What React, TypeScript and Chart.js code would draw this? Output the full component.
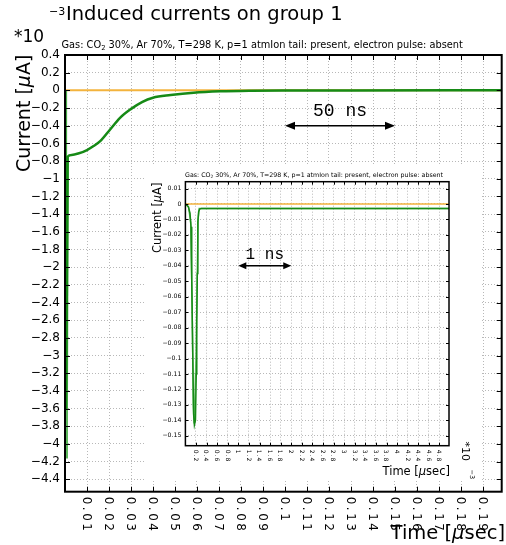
import React, { useEffect, useRef } from 'react';
import { Chart, registerables } from 'chart.js';

Chart.register(...registerables);

// ---------- Main chart data (time in µsec, current in 1e-3 µA) ----------
const mainTimeDark = [0, 0.0005, 0.0012, 0.003, 0.006, 0.01, 0.013, 0.016, 0.0206, 0.025, 0.0297, 0.035, 0.04, 0.048, 0.0585, 0.0706, 0.085, 0.1, 0.13, 0.1985];
const mainCurrentDark = [0, -3.6, -0.75, -0.73, -0.715, -0.675, -0.63, -0.575, -0.44, -0.31, -0.215, -0.132, -0.083, -0.053, -0.026, -0.011, -0.004, -0.0015, -0.0005, 0];
const mainTimeLight = [0, 0.0004, 0.0006, 0.0008, 0.0012];
const mainCurrentLight = [0, -3.5, -4.15, -3.5, -0.75];
const mainTimeZero = [0, 0.1985];
const mainCurrentZero = [0, 0];
const mainXTicks = [0.01, 0.02, 0.03, 0.04, 0.05, 0.06, 0.07, 0.08, 0.09, 0.1, 0.11, 0.12, 0.13, 0.14, 0.15, 0.16, 0.17, 0.18, 0.19];
const mainYTicks = [0.4, 0.2, 0, -0.2, -0.4, -0.6, -0.8, -1, -1.2, -1.4, -1.6, -1.8, -2, -2.2, -2.4, -2.6, -2.8, -3, -3.2, -3.4, -3.6, -3.8, -4, -4.2, -4.4];

// ---------- Inset chart data (time in 1e-3 µsec, current in µA) ----------
const insetTimeDark = [0, 0.055, 0.087, 0.106, 0.12, 0.14, 0.155, 0.17, 0.19, 0.205, 0.215, 0.225, 0.235, 0.25, 0.27, 0.3, 1, 2, 3, 4, 4.98];
const insetCurrentDark = [0, -0.0017, -0.006, -0.0147, -0.05, -0.1, -0.136, -0.143, -0.14, -0.11, -0.075, -0.045, -0.012, -0.005, -0.0033, -0.003, -0.003, -0.003, -0.003, -0.003, -0.003];
const insetTimeLight = [0, 0.06, 0.1, 0.125, 0.15, 0.165, 0.18, 0.2, 0.222, 0.24, 0.26, 4.98];
const insetCurrentLight = [0, -0.002, -0.012, -0.06, -0.13, -0.142, -0.142, -0.1, -0.05, -0.01, -0.003, -0.003];
const insetTimeZero = [0, 4.98];
const insetCurrentZero = [0, 0];
const insetXTicks = [0.2, 0.4, 0.6, 0.8, 1, 1.2, 1.4, 1.6, 1.8, 2, 2.2, 2.4, 2.6, 2.8, 3, 3.2, 3.4, 3.6, 3.8, 4, 4.2, 4.4, 4.6, 4.8];
const insetYTicks = [0.01, 0, -0.01, -0.02, -0.03, -0.04, -0.05, -0.06, -0.07, -0.08, -0.09, -0.1, -0.11, -0.12, -0.13, -0.14, -0.15];

const titleText = 'Induced currents on group 1';
const subtitleA = 'Gas: CO';
const subtitleSub = '2';
const subtitleB = ' 30%, Ar 70%, T=298 K, p=1 atmIon tail: present, electron pulse: absent';

const DARK = '#168a16';
const LIGHT = '#5cb85c';
const ORANGE = '#f3b33d';
const GRID = '#b8b8b8';
const SANS = '"DejaVu Sans"';
const MONO = '"Liberation Mono"';

function fmt(v: number): string {
  const s = String(Math.round(v * 10000) / 10000);
  return s.replace('-', '\u2212');
}

function pts(xs: number[], ys: number[]) {
  return xs.map((x, i) => ({ x, y: ys[i] }));
}

type Part = { t: string; f: string; dy?: number };
function drawParts(ctx: CanvasRenderingContext2D, parts: Part[], x: number, y: number) {
  let cx = x;
  for (const p of parts) {
    ctx.font = p.f;
    ctx.fillText(p.t, cx, y + (p.dy || 0));
    cx += ctx.measureText(p.t).width;
  }
  return cx;
}
function partsWidth(ctx: CanvasRenderingContext2D, parts: Part[]) {
  let w = 0;
  for (const p of parts) {
    ctx.font = p.f;
    w += ctx.measureText(p.t).width;
  }
  return w;
}

function dblArrow(ctx: CanvasRenderingContext2D, x1: number, x2: number, y: number, len: number, half: number, lw: number) {
  ctx.lineWidth = lw;
  ctx.beginPath();
  ctx.moveTo(x1 + len * 0.7, y);
  ctx.lineTo(x2 - len * 0.7, y);
  ctx.stroke();
  ctx.beginPath();
  ctx.moveTo(x1, y);
  ctx.lineTo(x1 + len, y - half);
  ctx.lineTo(x1 + len, y + half);
  ctx.closePath();
  ctx.fill();
  ctx.beginPath();
  ctx.moveTo(x2, y);
  ctx.lineTo(x2 - len, y - half);
  ctx.lineTo(x2 - len, y + half);
  ctx.closePath();
  ctx.fill();
}

function frameAndTicks(chart: any, xt: number[], yt: number[], tl: number, lw: number) {
  const { ctx, chartArea: a, scales } = chart;
  const x = scales.x, y = scales.y;
  ctx.strokeStyle = '#000';
  ctx.lineWidth = 1;
  ctx.beginPath();
  xt.forEach((v) => {
    const px = Math.round(x.getPixelForValue(v)) + 0.5;
    ctx.moveTo(px, a.bottom); ctx.lineTo(px, a.bottom - tl);
    ctx.moveTo(px, a.top); ctx.lineTo(px, a.top + tl);
  });
  yt.forEach((v) => {
    const py = Math.round(y.getPixelForValue(v)) + 0.5;
    ctx.moveTo(a.left, py); ctx.lineTo(a.left + tl, py);
    ctx.moveTo(a.right, py); ctx.lineTo(a.right - tl, py);
  });
  ctx.stroke();
  ctx.lineWidth = lw;
  ctx.strokeRect(a.left, a.top, a.right - a.left, a.bottom - a.top);
}

function rotatedXLabels(chart: any, xt: number[], size: number, spacing: number, gap: number) {
  const { ctx, chartArea: a, scales } = chart;
  const x = scales.x;
  ctx.fillStyle = '#000';
  ctx.font = `${size}px ${SANS}`;
  (ctx as any).letterSpacing = `${spacing}px`;
  ctx.textAlign = 'left';
  ctx.textBaseline = 'alphabetic';
  const cap = size * 0.729;
  xt.forEach((v) => {
    const px = x.getPixelForValue(v);
    ctx.save();
    ctx.translate(px - cap / 2, a.bottom + gap);
    ctx.rotate(Math.PI / 2);
    ctx.fillText(fmt(v), 0, 0);
    ctx.restore();
  });
  (ctx as any).letterSpacing = '0px';
}

const mainDecor = {
  id: 'mainDecor',
  afterDraw(chart: any) {
    const { ctx, scales } = chart;
    const x = scales.x, y = scales.y;
    ctx.save();
    frameAndTicks(chart, mainXTicks, mainYTicks, 5, 2);
    rotatedXLabels(chart, mainXTicks, 12, 2.5, 5);

    ctx.fillStyle = '#000';
    ctx.textAlign = 'left';
    ctx.textBaseline = 'alphabetic';
    // title
    ctx.font = `19.5px ${SANS}`;
    ctx.fillText(titleText, 66, 19.5);
    // multiplier
    ctx.font = `17px ${SANS}`;
    ctx.fillText('*10', 14, 42);
    ctx.font = `11px ${SANS}`;
    ctx.fillText('\u22123', 49, 14.5);
    // subtitle
    const se = drawParts(ctx, [{ t: subtitleA, f: `9.8px ${SANS}` }, { t: subtitleSub, f: `6.8px ${SANS}`, dy: 2 }], 61.5, 47.5);
    ctx.font = `9.8px ${SANS}`;
    ctx.fillText(subtitleB, se, 47.5);
    // y title
    ctx.save();
    ctx.translate(29.5, 172);
    ctx.rotate(-Math.PI / 2);
    drawParts(ctx, [
      { t: 'Current [', f: `19px ${SANS}` },
      { t: '\u03bc', f: `italic 19px ${SANS}` },
      { t: 'A]', f: `19px ${SANS}` },
    ], 0, 0);
    ctx.restore();
    // x title
    const xParts: Part[] = [
      { t: 'Time [', f: `19.5px ${SANS}` },
      { t: '\u03bc', f: `italic 19.5px ${SANS}` },
      { t: 'sec]', f: `19.5px ${SANS}` },
    ];
    const w = partsWidth(ctx, xParts);
    drawParts(ctx, xParts, 505 - w, 539);

    // 50 ns annotation
    const ax1 = x.getPixelForValue(0.1);
    const ax2 = x.getPixelForValue(0.15);
    const ay = y.getPixelForValue(-0.4);
    ctx.strokeStyle = '#000';
    dblArrow(ctx, ax1, ax2, ay, 10, 4, 1.6);
    ctx.font = `18px ${MONO}`;
    ctx.textAlign = 'center';
    ctx.fillText('50 ns', (ax1 + ax2) / 2, ay - 9.5);
    ctx.restore();
  },
};

const insetDecor = {
  id: 'insetDecor',
  afterDraw(chart: any) {
    const { ctx, scales } = chart;
    const x = scales.x, y = scales.y;
    ctx.save();
    frameAndTicks(chart, insetXTicks, insetYTicks, 3, 1.5);
    rotatedXLabels(chart, insetXTicks, 6, 1, 4);

    ctx.fillStyle = '#000';
    ctx.textAlign = 'left';
    ctx.textBaseline = 'alphabetic';
    // subtitle
    const se = drawParts(ctx, [{ t: subtitleA, f: `6.3px ${SANS}` }, { t: subtitleSub, f: `4.4px ${SANS}`, dy: 1.3 }], 40, 11);
    ctx.font = `6.3px ${SANS}`;
    ctx.fillText(subtitleB, se, 11);
    // y title
    ctx.save();
    ctx.translate(15.5, 87);
    ctx.rotate(-Math.PI / 2);
    drawParts(ctx, [
      { t: 'Current [', f: `11.4px ${SANS}` },
      { t: '\u03bc', f: `italic 11.4px ${SANS}` },
      { t: 'A]', f: `11.4px ${SANS}` },
    ], 0, 0);
    ctx.restore();
    // x title
    const xParts: Part[] = [
      { t: 'Time [', f: `11.5px ${SANS}` },
      { t: '\u03bc', f: `italic 11.5px ${SANS}` },
      { t: 'sec]', f: `11.5px ${SANS}` },
    ];
    const w = partsWidth(ctx, xParts);
    drawParts(ctx, xParts, 305 - w, 308.5);
    // x multiplier, rotated
    ctx.save();
    ctx.translate(316.5, 275.5);
    ctx.rotate(Math.PI / 2);
    ctx.font = `11px ${SANS}`;
    ctx.fillText('*10', 0, 0);
    ctx.font = `6.5px ${SANS}`;
    ctx.fillText('\u22123', 28, -8);
    ctx.restore();

    // 1 ns annotation
    const ax1 = x.getPixelForValue(1);
    const ax2 = x.getPixelForValue(2);
    const ay = y.getPixelForValue(-0.04);
    ctx.strokeStyle = '#000';
    dblArrow(ctx, ax1, ax2, ay, 8, 3.5, 1.5);
    ctx.font = `16px ${MONO}`;
    ctx.textAlign = 'center';
    ctx.fillText('1 ns', (ax1 + ax2) / 2, ay - 7);
    ctx.restore();
  },
};

function gridScale(extra: any) {
  return {
    type: 'linear',
    bounds: 'data',
    grid: { color: GRID, lineWidth: 1, drawTicks: false },
    border: { display: false, dash: [1, 2] },
    ...extra,
  };
}

export default function App() {
  const mainRef = useRef<HTMLCanvasElement>(null);
  const insetRef = useRef<HTMLCanvasElement>(null);

  useEffect(() => {
    const main = new Chart(mainRef.current as HTMLCanvasElement, {
      type: 'line',
      data: {
        datasets: [
          { data: pts(mainTimeDark, mainCurrentDark), borderColor: DARK, borderWidth: 2.5, pointRadius: 0, cubicInterpolationMode: 'monotone' },
          { data: pts(mainTimeLight, mainCurrentLight), borderColor: LIGHT, borderWidth: 2.5, pointRadius: 0, tension: 0 },
          { data: pts(mainTimeZero, mainCurrentZero), borderColor: ORANGE, borderWidth: 2, pointRadius: 0, tension: 0 },
        ],
      } as any,
      options: {
        animation: false,
        responsive: false,
        devicePixelRatio: 1,
        events: [],
        layout: { padding: { top: 55, right: 4.3, left: 0, bottom: 0 } },
        plugins: { legend: { display: false }, tooltip: { enabled: false }, title: { display: false } },
        scales: {
          x: gridScale({
            min: 0,
            max: 0.1985,
            afterBuildTicks: (s: any) => { s.ticks = mainXTicks.map((v) => ({ value: v })); },
            afterFit: (s: any) => { s.height = 53.3; },
            ticks: { display: false },
          }),
          y: gridScale({
            min: -4.54,
            max: 0.4,
            afterBuildTicks: (s: any) => { s.ticks = mainYTicks.map((v) => ({ value: v })); },
            afterFit: (s: any) => { s.width = 65; },
            ticks: { autoSkip: false, color: '#000', padding: 5, font: { family: SANS, size: 12 }, callback: (v: any) => fmt(Number(v)) },
          }),
        },
      } as any,
      plugins: [mainDecor],
    });

    const inset = new Chart(insetRef.current as HTMLCanvasElement, {
      type: 'line',
      data: {
        datasets: [
          { data: pts(insetTimeDark, insetCurrentDark), borderColor: DARK, borderWidth: 1.5, pointRadius: 0, tension: 0 },
          { data: pts(insetTimeLight, insetCurrentLight), borderColor: LIGHT, borderWidth: 1.5, pointRadius: 0, tension: 0 },
          { data: pts(insetTimeZero, insetCurrentZero), borderColor: ORANGE, borderWidth: 1.5, pointRadius: 0, tension: 0 },
        ],
      } as any,
      options: {
        animation: false,
        responsive: false,
        devicePixelRatio: 1,
        events: [],
        layout: { padding: { top: 15.7, right: 31, left: 0, bottom: 0 } },
        plugins: { legend: { display: false }, tooltip: { enabled: false }, title: { display: false } },
        scales: {
          x: gridScale({
            min: 0,
            max: 4.98,
            afterBuildTicks: (s: any) => { s.ticks = insetXTicks.map((v) => ({ value: v })); },
            afterFit: (s: any) => { s.height = 34.3; },
            ticks: { display: false },
          }),
          y: gridScale({
            min: -0.1564,
            max: 0.0144,
            afterBuildTicks: (s: any) => { s.ticks = insetYTicks.map((v) => ({ value: v })); },
            afterFit: (s: any) => { s.width = 40.4; },
            ticks: { autoSkip: false, color: '#000', padding: 4, font: { family: SANS, size: 6.2 }, callback: (v: any) => fmt(Number(v)) },
          }),
        },
      } as any,
      plugins: [insetDecor],
    });

    return () => {
      main.destroy();
      inset.destroy();
    };
  }, []);

  return (
    <div style={{ position: 'absolute', left: 0, top: 0, width: 506, height: 545, background: '#fff' }}>
      <canvas ref={mainRef} width={506} height={545} style={{ position: 'absolute', left: 0, top: 0, width: 506, height: 545 }} />
      <canvas ref={insetRef} width={335} height={314} style={{ position: 'absolute', left: 145, top: 166, width: 335, height: 314, background: '#fff' }} />
    </div>
  );
}
